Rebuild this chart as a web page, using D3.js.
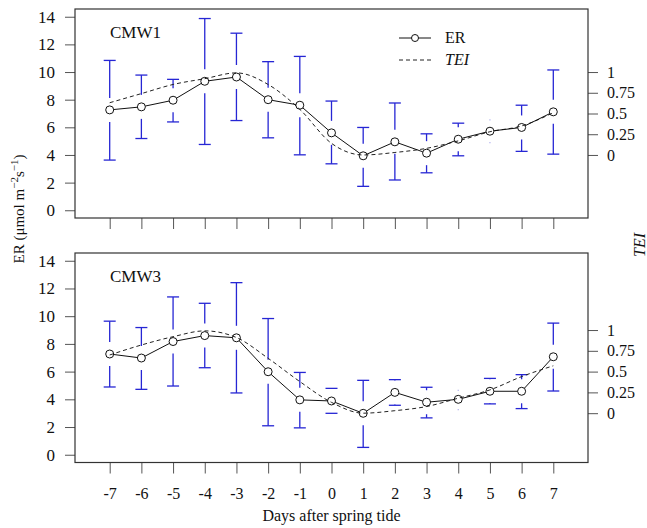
<!DOCTYPE html>
<html><head><meta charset="utf-8">
<script src="https://cdn.jsdelivr.net/npm/d3@7"></script>
<style>
html,body{margin:0;padding:0;background:#fff;}
svg text{font-family:"Liberation Serif","DejaVu Serif","Times New Roman",Times,serif !important;fill:#111;}
</style></head>
<body><svg id="chart" width="647" height="528"></svg>
<script>
// ---- data ----
const days = [-7,-6,-5,-4,-3,-2,-1,0,1,2,3,4,5,6,7];
const erTicks = [0,2,4,6,8,10,12,14];
const teiTicks = [0,0.25,0.5,0.75,1];
const teiTickLabels = ["0","0.25","0.5","0.75","1"];

const er1   = [7.26,7.48,7.96,9.33,9.64,8.00,7.60,5.60,3.94,4.95,4.13,5.14,5.72,5.99,7.12];
const er1Hi = [10.84,9.78,9.47,13.87,12.81,10.75,11.13,7.90,5.99,7.76,5.53,6.30,6.54,7.60,10.15];
const er1Lo = [3.63,5.19,6.39,4.76,6.49,5.24,4.01,3.36,1.73,2.19,2.71,3.94,4.90,4.26,4.06];
const tei1  = [0.63,0.74,0.85,0.92,0.99,0.85,0.55,0.14,0.00,0.03,0.08,0.17,0.28,0.35,0.51];

const er3   = [7.27,6.98,8.17,8.60,8.44,5.99,3.96,3.88,2.99,4.50,3.79,4.00,4.58,4.58,7.07];
const er3Hi = [9.64,9.18,11.39,10.93,12.42,9.83,5.94,4.79,5.37,5.42,4.87,4.65,5.51,5.78,9.50];
const er3Lo = [4.89,4.72,4.96,6.28,4.46,2.09,1.94,2.99,0.53,3.57,2.66,3.26,3.67,3.33,4.60];
const tei3  = [0.70,0.82,0.92,0.99,0.91,0.66,0.38,0.13,0.00,0.03,0.08,0.18,0.28,0.44,0.57];

const panels = [
  {name:"CMW1", er:er1, hi:er1Hi, lo:er1Lo, tei:tei1, top:9, bottom:218, teiER:[4,10], legend:true, labels:false},
  {name:"CMW3", er:er3, hi:er3Hi, lo:er3Lo, tei:tei3, top:253, bottom:462.5, teiER:[3,9], legend:false, labels:true}
];

const FONT = "Liberation Serif, DejaVu Serif, Times New Roman, serif";
const svg = d3.select("#chart");
const L = 75, R = 588;
const x = d3.scaleLinear().domain([-8.095, 8.095]).range([L, R]);
const barColor = "#2626d4";
const gap = 12, capW = 6, rad = 4;

panels.forEach(p => {
  const y = d3.scaleLinear().domain([-0.56, 14.56]).range([p.bottom, p.top]);
  const yT = d3.scaleLinear().domain([0,1]).range([y(p.teiER[0]), y(p.teiER[1])]);
  const g = svg.append("g");

  // left axis
  const la = g.append("g").attr("transform",`translate(${L},0)`)
    .call(d3.axisLeft(y).tickValues(erTicks).tickSize(10).tickPadding(10).tickFormat(d3.format("d")));
  la.attr("font-family",FONT);
  la.select(".domain").remove();
  la.selectAll("line").attr("stroke","#555");
  la.selectAll("text").attr("font-size",17).attr("fill","#111");

  // right axis
  const ra = g.append("g").attr("transform",`translate(${R},0)`)
    .call(d3.axisRight(yT).tickValues(teiTicks).tickSize(10).tickPadding(9).tickFormat((d,i)=>teiTickLabels[i]));
  ra.attr("font-family",FONT);
  ra.select(".domain").remove();
  ra.selectAll("line").attr("stroke","#555");
  ra.selectAll("text").attr("font-size",16).attr("fill","#111");

  // bottom axis
  const ba = g.append("g").attr("transform",`translate(0,${p.bottom})`)
    .call(d3.axisBottom(x).tickValues(days).tickSize(11).tickPadding(14).tickFormat(d3.format("d")));
  ba.attr("font-family",FONT);
  ba.select(".domain").remove();
  ba.selectAll("line").attr("stroke","#555");
  ba.selectAll("text").attr("font-size",16).attr("fill","#111")
    .text(d => p.labels ? String(d) : "");

  // box
  g.append("rect").attr("x",L).attr("y",p.top).attr("width",R-L).attr("height",p.bottom-p.top)
    .attr("fill","none").attr("stroke","#333").attr("stroke-width",1.2);

  // error bars with gap around point
  days.forEach((d,i) => {
    const xc = x(d), yc = y(p.er[i]);
    [[y(p.hi[i]), -1],[y(p.lo[i]), 1]].forEach(([ye, dir]) => {
      const dist = Math.abs(ye - yc);
      if (dist > gap) {
        g.append("line").attr("x1",xc).attr("x2",xc).attr("y1",ye).attr("y2",yc + dir*gap)
          .attr("stroke",barColor).attr("stroke-width",1.3);
        g.append("line").attr("x1",xc-capW).attr("x2",xc+capW).attr("y1",ye).attr("y2",ye)
          .attr("stroke",barColor).attr("stroke-width",1.3);
      } else {
        g.append("line").attr("x1",xc-0.6).attr("x2",xc+0.6).attr("y1",ye).attr("y2",ye)
          .attr("stroke",barColor).attr("stroke-width",1.2).attr("opacity",0.35);
      }
    });
  });

  // TEI dashed line
  const teiLine = d3.line().x((d,i)=>x(days[i])).y(d=>yT(d)).curve(d3.curveMonotoneX);
  g.append("path").attr("d",teiLine(p.tei)).attr("fill","none")
    .attr("stroke","#222").attr("stroke-width",1).attr("stroke-dasharray","4,3");

  // ER line (type "b": segments stop at circle edges)
  const pts = days.map((d,i)=>[x(d), y(p.er[i])]);
  for (let i=0;i<pts.length-1;i++){
    const [x1,y1]=pts[i],[x2,y2]=pts[i+1];
    const len=Math.hypot(x2-x1,y2-y1), ux=(x2-x1)/len, uy=(y2-y1)/len;
    g.append("line").attr("x1",x1+ux*rad).attr("y1",y1+uy*rad)
      .attr("x2",x2-ux*rad).attr("y2",y2-uy*rad).attr("stroke","#111").attr("stroke-width",1);
  }
  g.selectAll("circle.pt").data(pts).enter().append("circle")
    .attr("cx",d=>d[0]).attr("cy",d=>d[1]).attr("r",rad)
    .attr("fill","none").attr("stroke","#111").attr("stroke-width",1);

  // panel label
  g.append("text").attr("x",110).attr("y",p.top+29).attr("font-family",FONT).attr("font-size",17).text(p.name);

  if (p.legend) {
    const ly1 = p.top + 29, ly2 = p.top + 51;
    g.append("line").attr("x1",399).attr("x2",431).attr("y1",ly1).attr("y2",ly1).attr("stroke","#111");
    g.append("circle").attr("cx",415).attr("cy",ly1).attr("r",3.5).attr("fill","#fff").attr("stroke","#111");
    g.append("text").attr("x",445).attr("y",ly1+5).attr("font-family",FONT).attr("font-size",16).text("ER");
    g.append("line").attr("x1",399).attr("x2",431).attr("y1",ly2).attr("y2",ly2)
      .attr("stroke","#222").attr("stroke-dasharray","4,3");
    g.append("text").attr("x",445).attr("y",ly2+5).attr("font-family",FONT).attr("font-size",16)
      .attr("font-style","italic").text("TEI");
  }
});

// axis titles
svg.append("text").attr("x",(L+R)/2).attr("y",521).attr("text-anchor","middle")
  .attr("font-family",FONT).attr("font-size",16).text("Days after spring tide");

const yl = svg.append("text").attr("transform","translate(24,209) rotate(-90)")
  .attr("text-anchor","middle").attr("font-family",FONT).attr("font-size",15);
yl.append("tspan").text("ER (μmol m");
yl.append("tspan").attr("font-size",11).attr("dy",-6).text("−2");
yl.append("tspan").attr("dy",6).text("s");
yl.append("tspan").attr("font-size",11).attr("dy",-6).text("−1");
yl.append("tspan").attr("dy",6).text(")");

svg.append("text").attr("transform","translate(645,245) rotate(-90)")
  .attr("text-anchor","middle").attr("font-family",FONT).attr("font-size",16)
  .attr("font-style","italic").text("TEI");
</script></body></html>
